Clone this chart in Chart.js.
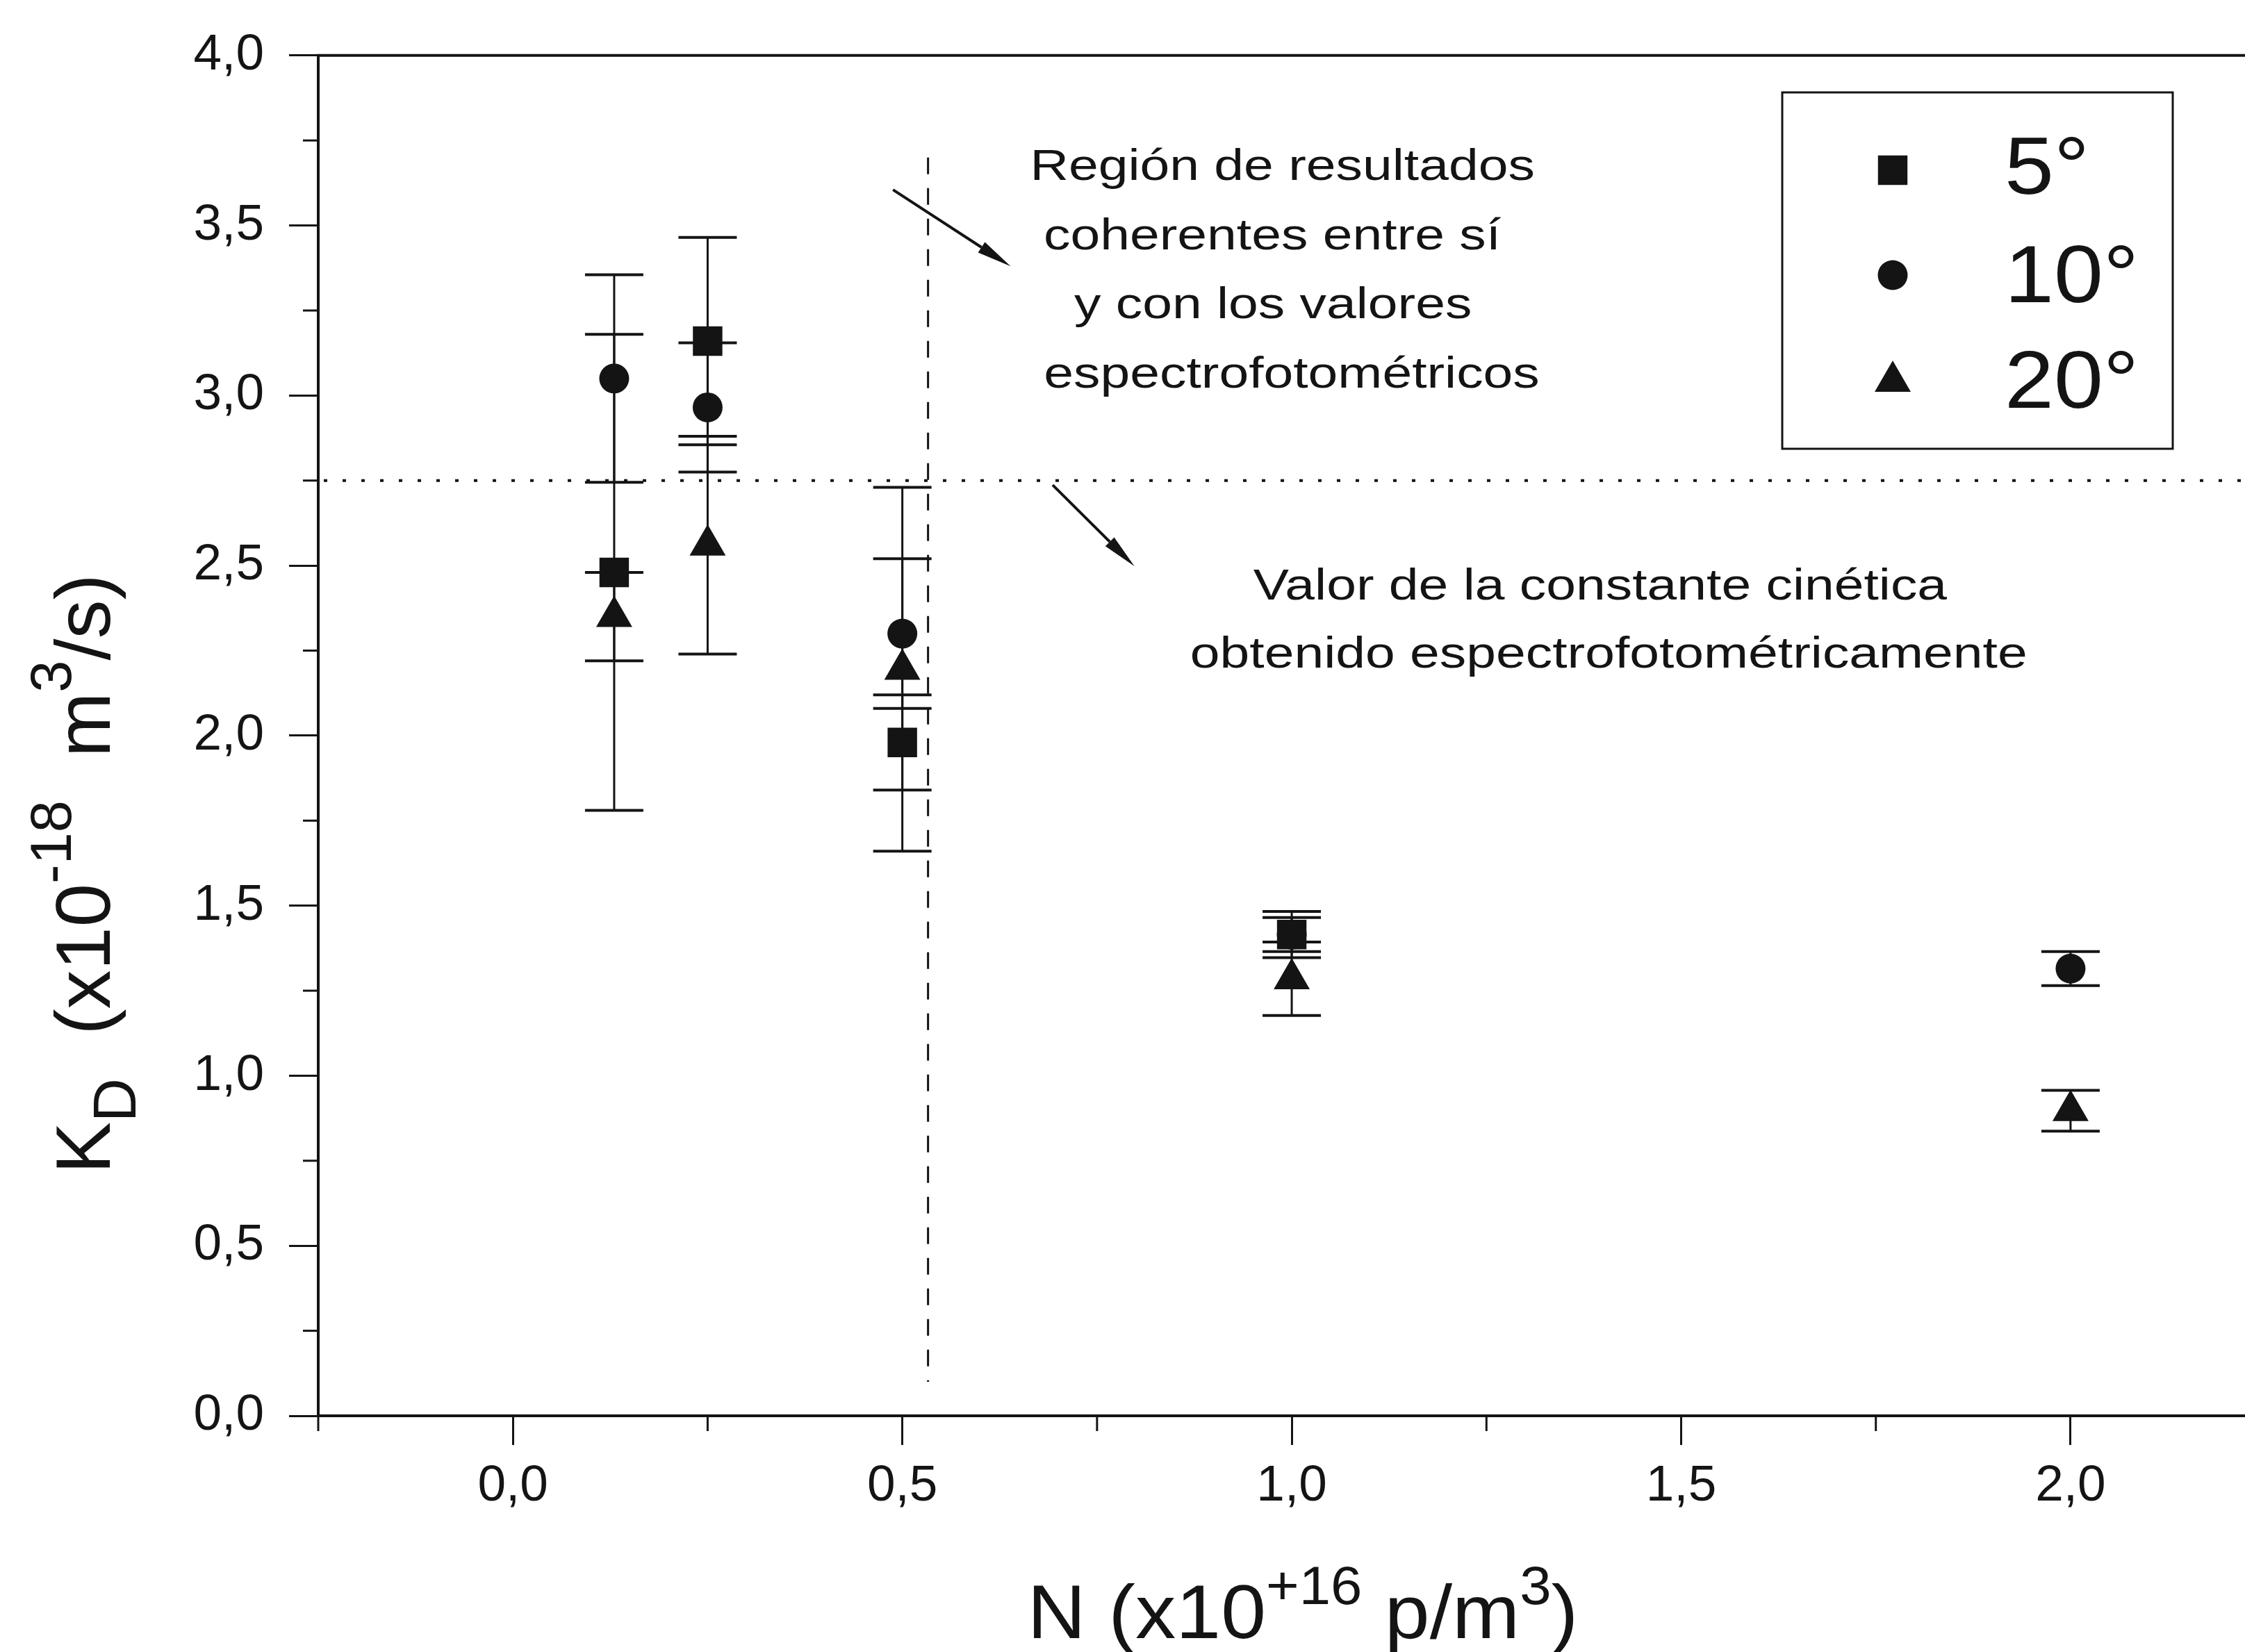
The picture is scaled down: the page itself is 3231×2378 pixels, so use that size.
<!DOCTYPE html>
<html>
<head>
<meta charset="utf-8">
<script src="https://cdn.jsdelivr.net/npm/chart.js@4.4.1/dist/chart.umd.min.js"></script>
<style>
  html, body { margin: 0; padding: 0; background: #ffffff; overflow: hidden; }
  canvas { display: block; }
</style>
</head>
<body>
<canvas id="kd" width="3231" height="2378"></canvas>
<script>
// Dissociation constant K_D versus particle concentration N, for three angles
const concentrations = [0.13, 0.25, 0.5, 1.0, 2.0];          // N (x10^16 p/m^3)
const kd5     = [2.48, 3.16, 1.98, 1.415, null];             // K_D (x10^-18 m^3/s)
const kd5Err  = [0.70, 0.305, 0.14, 0.05, null];
const kd10    = [3.05, 2.965, 2.30, 1.415, 1.315];
const kd10Err = [0.305, 0.19, 0.22, 0.068, 0.05];
const kd20    = [2.35, 2.56, 2.195, 1.285, 0.897];
const kd20Err = [0.13, 0.32, 0.535, 0.108, 0.06];
const seriesLabels = ['5°', '10°', '20°'];

const xTickValues = [-0.25, 0, 0.25, 0.5, 0.75, 1.0, 1.25, 1.5, 1.75, 2.0];
const yTickValues = [0, 0.25, 0.5, 0.75, 1.0, 1.25, 1.5, 1.75, 2.0, 2.25, 2.5, 2.75, 3.0, 3.25, 3.5, 3.75, 4.0];

const kdSpectro = 2.75;          // value obtained by spectrophotometry
const coherenceLimit = 0.533;    // boundary of the coherent region (N)
const coherenceSpan = [0.1, 3.7];

const INK = '#141414';
const FONT = '"Liberation Sans", Arial, Helvetica, sans-serif';

const isMajor = v => Math.abs(v * 2 - Math.round(v * 2)) < 1e-9;
const fmt = v => v.toFixed(1).replace('.', ',');

function makePoints(values, errs) {
  const pts = [];
  concentrations.forEach((n, i) => {
    if (values[i] != null) pts.push({ x: n, y: values[i], err: errs[i] });
  });
  return pts;
}

// ---- drawing helpers ----
function line(ctx, x1, y1, x2, y2) {
  ctx.beginPath(); ctx.moveTo(x1, y1); ctx.lineTo(x2, y2); ctx.stroke();
}

function stretchedText(ctx, text, x, y, size, sx, align) {
  ctx.save();
  ctx.font = size + 'px ' + FONT;
  const w = ctx.measureText(text).width * sx;
  const left = align === 'center' ? x - w / 2 : (align === 'right' ? x - w : x);
  ctx.translate(left, y);
  ctx.scale(sx, 1);
  ctx.textAlign = 'left';
  ctx.textBaseline = 'alphabetic';
  ctx.fillText(text, 0, 0);
  ctx.restore();
}

// rich text: parts = [{t, s}] where s is 'sup' or 'sub'
function partStyle(p, size, st) {
  if (p.s === 'sup') return { fs: size * st.supScale, dy: -size * st.supRise };
  if (p.s === 'sub') return { fs: size * st.subScale, dy: size * st.subDrop };
  return { fs: size, dy: 0 };
}
function richWidth(ctx, parts, size, st) {
  let w = 0;
  parts.forEach(p => {
    ctx.font = partStyle(p, size, st).fs + 'px ' + FONT;
    w += ctx.measureText(p.t).width;
  });
  return w;
}
function richDraw(ctx, parts, size, st) {
  let x = 0;
  ctx.textAlign = 'left';
  ctx.textBaseline = 'alphabetic';
  parts.forEach(p => {
    const { fs, dy } = partStyle(p, size, st);
    ctx.font = fs + 'px ' + FONT;
    ctx.fillText(p.t, x, dy);
    x += ctx.measureText(p.t).width;
  });
}

function arrow(ctx, x1, y1, x2, y2) {
  const ang = Math.atan2(y2 - y1, x2 - x1);
  const len = 50, half = 9;
  const bx = x2 - Math.cos(ang) * len, by = y2 - Math.sin(ang) * len;
  ctx.lineWidth = 4;
  line(ctx, x1, y1, bx, by);
  ctx.beginPath();
  ctx.moveTo(x2, y2);
  ctx.lineTo(bx + Math.sin(ang) * half, by - Math.cos(ang) * half);
  ctx.lineTo(bx - Math.sin(ang) * half, by + Math.cos(ang) * half);
  ctx.closePath();
  ctx.fill();
}

// ---- plugins ----
const referenceLines = {
  id: 'referenceLines',
  beforeDatasetsDraw(chart) {
    const { ctx, chartArea, scales: { x, y } } = chart;
    ctx.save();
    ctx.strokeStyle = INK;
    // dotted horizontal line at the spectrophotometric value
    ctx.lineWidth = 4;
    ctx.setLineDash([5, 22]);
    const yr = y.getPixelForValue(kdSpectro);
    line(ctx, chartArea.left + 8, yr, chartArea.right, yr);
    // dashed vertical boundary
    ctx.lineWidth = 3;
    ctx.setLineDash([24, 20]);
    const xv = x.getPixelForValue(coherenceLimit);
    line(ctx, xv, y.getPixelForValue(coherenceSpan[1]), xv, y.getPixelForValue(coherenceSpan[0]));
    ctx.restore();
  }
};

const errorBars = {
  id: 'errorBars',
  beforeDatasetsDraw(chart) {
    const { ctx, scales: { x, y } } = chart;
    ctx.save();
    ctx.strokeStyle = INK;
    chart.data.datasets.forEach((ds, i) => {
      if (!chart.isDatasetVisible(i)) return;
      ds.data.forEach(p => {
        const px = x.getPixelForValue(p.x);
        const top = y.getPixelForValue(p.y + p.err);
        const bot = y.getPixelForValue(p.y - p.err);
        ctx.lineWidth = 3;
        line(ctx, px, top, px, bot);
        ctx.lineWidth = 4;
        line(ctx, px - 42, top, px + 42, top);
        line(ctx, px - 42, bot, px + 42, bot);
      });
    });
    ctx.restore();
  }
};

const frameAndTicks = {
  id: 'frameAndTicks',
  afterDraw(chart) {
    const { ctx, chartArea, scales: { x, y } } = chart;
    ctx.save();
    ctx.strokeStyle = INK;
    // top frame line
    ctx.lineWidth = 4;
    line(ctx, chartArea.left - 2, chartArea.top, chartArea.right, chartArea.top);
    // minor ticks
    ctx.lineWidth = 3;
    x.ticks.forEach(t => {
      if (isMajor(t.value)) return;
      const px = x.getPixelForValue(t.value);
      line(ctx, px, chartArea.bottom, px, chartArea.bottom + 22);
    });
    y.ticks.forEach(t => {
      if (isMajor(t.value)) return;
      const py = y.getPixelForValue(t.value);
      line(ctx, chartArea.left - 22, py, chartArea.left, py);
    });
    ctx.restore();
  }
};

const annotations = {
  id: 'annotations',
  afterDraw(chart) {
    const { ctx, scales: { x, y } } = chart;
    ctx.save();
    ctx.fillStyle = INK;
    ctx.strokeStyle = INK;
    const size = 63, sx = 1.22;
    const block1 = [
      ['Región de resultados', 0.988, 3.634],
      ['coherentes entre sí', 0.975, 3.430],
      ['y con los valores', 0.976, 3.227],
      ['espectrofotométricos', 1.0, 3.023]
    ];
    block1.forEach(([t, vx, vy]) =>
      stretchedText(ctx, t, x.getPixelForValue(vx), y.getPixelForValue(vy), size, sx, 'center'));
    const block2 = [
      ['Valor de la constante cinética', 1.396, 2.401],
      ['obtenido espectrofotométricamente', 1.407, 2.199]
    ];
    block2.forEach(([t, vx, vy]) =>
      stretchedText(ctx, t, x.getPixelForValue(vx), y.getPixelForValue(vy), size, sx, 'center'));
    arrow(ctx, x.getPixelForValue(0.488), y.getPixelForValue(3.605),
               x.getPixelForValue(0.639), y.getPixelForValue(3.380));
    arrow(ctx, x.getPixelForValue(0.693), y.getPixelForValue(2.737),
               x.getPixelForValue(0.798), y.getPixelForValue(2.498));
    ctx.restore();
  }
};

const boxedLegend = {
  id: 'boxedLegend',
  afterDraw(chart) {
    const { ctx } = chart;
    const box = { left: 2565, top: 133, right: 3127, bottom: 646 };
    const rows = [245, 396, 549];
    const baselines = [279, 435, 587];
    ctx.save();
    ctx.strokeStyle = INK;
    ctx.fillStyle = INK;
    ctx.lineWidth = 3;
    ctx.strokeRect(box.left, box.top, box.right - box.left, box.bottom - box.top);
    chart.data.datasets.forEach((ds, i) => {
      const opts = { pointStyle: ds.pointStyle, radius: ds.pointRadius, rotation: 0, borderWidth: 0 };
      if (Chart.helpers && Chart.helpers.drawPoint) {
        Chart.helpers.drawPoint(ctx, opts, 2724, rows[i]);
      }
      stretchedText(ctx, ds.label, 2885, baselines[i], 116, 1.1, 'left');
    });
    ctx.restore();
  }
};

const axisTitles = {
  id: 'axisTitles',
  afterDraw(chart) {
    const { ctx } = chart;
    ctx.save();
    ctx.fillStyle = INK;
    // horizontal axis title
    const xParts = [{ t: 'N (x10' }, { t: '+16', s: 'sup' }, { t: ' p/m' }, { t: '3', s: 'sup' }, { t: ')' }];
    const xStyle = { supScale: 0.7, supRise: 0.45, subScale: 0.75, subDrop: 0.32 };
    const xs = 110, xsx = 1.06;
    const xw = richWidth(ctx, xParts, xs, xStyle) * xsx;
    ctx.save();
    ctx.translate(1875 - xw / 2, 2358);
    ctx.scale(xsx, 1);
    richDraw(ctx, xParts, xs, xStyle);
    ctx.restore();
    // vertical axis title
    const yParts = [{ t: 'K' }, { t: 'D', s: 'sub' }, { t: '  (x10' }, { t: '-18', s: 'sup' }, { t: '  m' }, { t: '3', s: 'sup' }, { t: '/s)' }];
    const yStyle = { supScale: 0.74, supRise: 0.5, subScale: 0.78, subDrop: 0.33 };
    const ys = 112;
    const yw = richWidth(ctx, yParts, ys, yStyle);
    ctx.save();
    ctx.translate(158, 1258 + yw / 2);
    ctx.rotate(-Math.PI / 2);
    richDraw(ctx, yParts, ys, yStyle);
    ctx.restore();
    ctx.restore();
  }
};

// ---- chart ----
const markerStyle = { backgroundColor: INK, borderColor: INK, borderWidth: 0, showLine: false };

new Chart(document.getElementById('kd'), {
  type: 'scatter',
  data: {
    datasets: [
      { label: seriesLabels[0], data: makePoints(kd5, kd5Err), pointStyle: 'rect', pointRadius: 30, ...markerStyle },
      { label: seriesLabels[1], data: makePoints(kd10, kd10Err), pointStyle: 'circle', pointRadius: 21.5, ...markerStyle },
      { label: seriesLabels[2], data: makePoints(kd20, kd20Err), pointStyle: 'triangle', pointRadius: 30, ...markerStyle }
    ]
  },
  options: {
    responsive: false,
    animation: false,
    devicePixelRatio: 1,
    layout: { autoPadding: false, padding: { left: 0, top: 72, right: 0, bottom: 0 } },
    plugins: {
      legend: { display: false },
      tooltip: { enabled: false }
    },
    scales: {
      x: {
        type: 'linear',
        min: -0.25,
        max: 2.224,
        afterBuildTicks: s => { s.ticks = xTickValues.map(value => ({ value })); },
        afterFit: s => { s.height = 340; s.paddingLeft = 0; s.paddingRight = 0; },
        border: { display: true, color: INK, width: 4 },
        grid: {
          drawOnChartArea: false,
          drawTicks: true,
          tickLength: 42,
          tickWidth: 3,
          tickColor: c => (c.tick && isMajor(c.tick.value)) ? INK : 'rgba(0,0,0,0)'
        },
        ticks: {
          autoSkip: false,
          maxRotation: 0,
          padding: 16,
          color: INK,
          font: { family: FONT, size: 73 },
          callback: v => isMajor(v) ? fmt(v) : ''
        }
      },
      y: {
        type: 'linear',
        min: 0,
        max: 4,
        afterBuildTicks: s => { s.ticks = yTickValues.map(value => ({ value })); },
        afterFit: s => { s.width = 458; },
        border: { display: true, color: INK, width: 4 },
        grid: {
          drawOnChartArea: false,
          drawTicks: true,
          tickLength: 42,
          tickWidth: 3,
          tickColor: c => (c.tick && isMajor(c.tick.value)) ? INK : 'rgba(0,0,0,0)'
        },
        ticks: {
          autoSkip: false,
          padding: 36,
          color: INK,
          font: { family: FONT, size: 73 },
          callback: v => isMajor(v) ? fmt(v) : ''
        }
      }
    }
  },
  plugins: [referenceLines, errorBars, frameAndTicks, annotations, boxedLegend, axisTitles]
});
</script>
</body>
</html>
